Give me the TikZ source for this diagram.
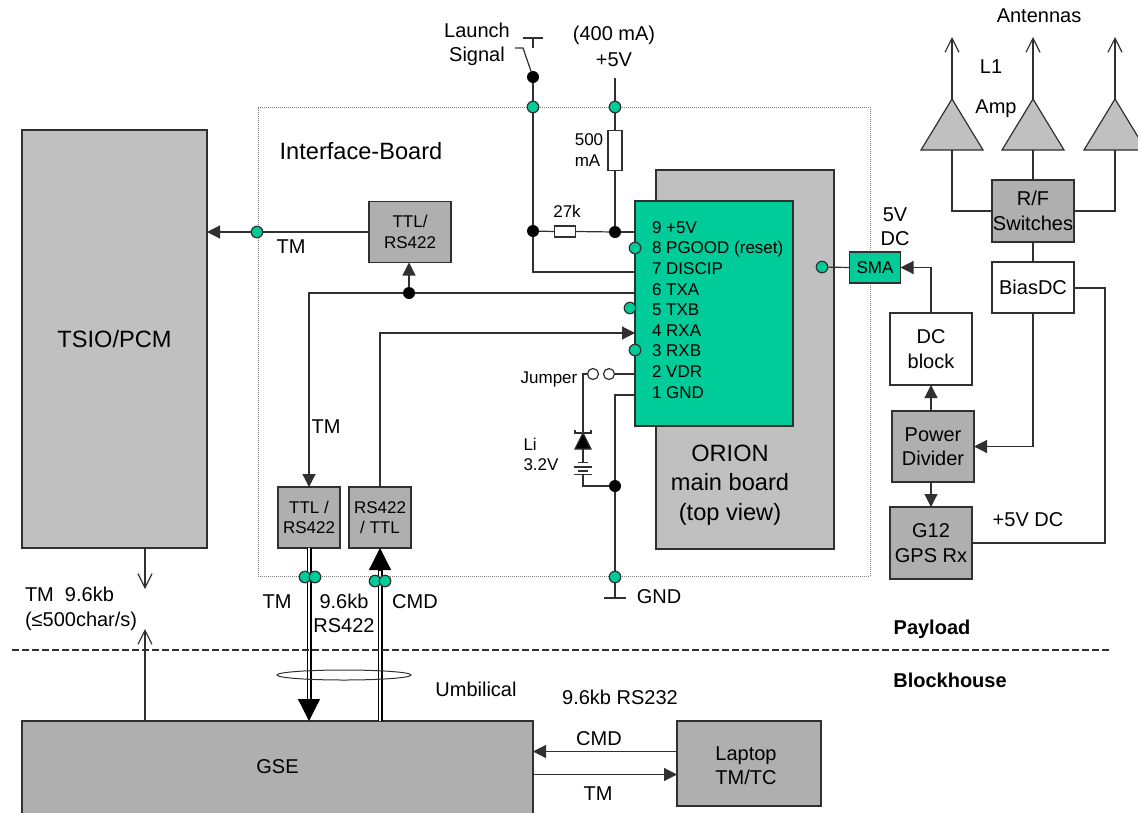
\documentclass[tikz,border=0pt]{standalone}
\usepackage{fontspec}
\setmainfont{Liberation Sans}
\usetikzlibrary{arrows.meta,shapes.geometric}
\definecolor{pcbgreen}{HTML}{00CC99}
\definecolor{boardgray}{HTML}{C0C0C0}
\definecolor{unitgray}{HTML}{AFAFAF}
\definecolor{linegray}{HTML}{303030}
\begin{document}
\begin{tikzpicture}[x=1pt,y=-1pt,line width=1.2pt,every node/.style={font=\fontsize{20}{24.5}\selectfont,align=center,inner sep=0pt,outer sep=0pt},
  box/.style={draw=linegray,line width=1.4pt,fill=unitgray},
  smalltext/.style={font=\fontsize{17}{20.6}\selectfont},
  bigtext/.style={font=\fontsize{23.6}{29.5}\selectfont},
  gdot/.style={circle,draw=linegray,fill=pcbgreen,minimum size=11.5pt},
  kdot/.style={circle,fill=black,minimum size=12pt},
  ftip/.style={-{Triangle[length=13pt,width=13pt]}},
  otip/.style={-{Straight Barb[length=14pt,width=14pt,line width=1.2pt]}},
  bigtip/.style={-{Triangle[length=22pt,width=22pt]}},
  bus/.style={double,double distance=1.6pt,line width=1.7pt,draw=black}]
\clip (0,0) rectangle (1138,812);
\node[draw=gray,dash pattern=on 1pt off 1pt,line width=1pt,minimum width=612pt,minimum height=469pt] (iface) at (564,341.5) {};
% big blocks
\node[box,fill=boardgray,bigtext,minimum width=185pt,minimum height=418pt] (tsio) at (114.5,339) {TSIO/PCM};
\node[box,minimum width=511pt,minimum height=100pt] (gse) at (277.5,771) {};
\node (gselbl) at (277.5,767) {GSE};
\node[box,minimum width=144pt,minimum height=85pt] (laptop) at (749,763.5) {};
\node (laptoplbl) at (746,765.5) {Laptop\\ TM/TC};
\node[box,fill=boardgray,minimum width=178pt,minimum height=379pt] (orion) at (745,359.5) {};
\node[bigtext] (oriontxt) at (730,485) {ORION\\ main board\\ (top view)};
\node[box,fill=pcbgreen,minimum width=158pt,minimum height=225pt] (pins) at (714,313.5) {};
\node[smalltext,align=left,anchor=north west] (pintxt) at (652,221.5) {9 +5V\\ 8 PGOOD (reset)\\ 7 DISCIP\\ 6 TXA\\ 5 TXB\\ 4 RXA\\ 3 RXB\\ 2 VDR\\ 1 GND};
% converters
\node[box,smalltext,minimum width=82pt,minimum height=61pt] (ttltop) at (410,232) {TTL/\\ RS422};
\node[box,smalltext,minimum width=62pt,minimum height=61pt] (ttlbot) at (309,517.5) {TTL /\\ RS422};
\node[box,smalltext,minimum width=62pt,minimum height=61pt] (rsbot) at (380,517.5) {RS422\\ / TTL};
% RF chain
\node[box,fill=pcbgreen,smalltext,minimum width=51pt,minimum height=31pt] (sma) at (875,267.5) {SMA};
\node[box,minimum width=82pt,minimum height=62pt] (rfsw) at (1033,211) {R/F\\ Switches};
\node[box,fill=white,minimum width=82pt,minimum height=51pt] (bias) at (1033,287.5) {BiasDC};
\node[box,fill=white,minimum width=82pt,minimum height=72pt] (dcblock) at (931,349) {DC\\ block};
\node[box,minimum width=82pt,minimum height=71pt] (divider) at (933,446.5) {Power\\ Divider};
\node[box,minimum width=82pt,minimum height=72pt] (gpsrx) at (931,543) {G12\\ GPS Rx};
% amplifiers
\foreach \nm/\x in {ampa/952,ampb/1033,ampc/1115}{
  \coordinate (\nm) at (\x,99);
  \coordinate (\nm-in) at (\x,150);
  \coordinate (\nm-out) at (\x,37);
  \draw[draw=linegray,fill=boardgray] (\nm) -- ++(-31,51) -- ++(62,0) -- cycle;
  \draw[otip,draw=linegray] (\nm) -- (\nm-out);
}
\draw[linegray] (ampa-in) |- (rfsw.west);
\draw[linegray] (ampb-in) -- (rfsw.north);
\draw[linegray] (ampc-in) |- (rfsw.east);
\draw[linegray] (rfsw.south) -- (bias.north);
\draw[linegray,ftip] (dcblock.north) |- (sma.east);
\draw[linegray,ftip] (divider.north -| dcblock.south) -- (dcblock.south);
\draw[linegray,ftip] (divider.south -| gpsrx.north) -- (gpsrx.north);
\draw[linegray,ftip] (bias.south) |- (divider.east);
\coordinate (biasout) at (1105,288);
\draw[linegray] (bias.east |- biasout) -- (biasout) |- (gpsrx.east);
% supply and launch signal
\node[kdot] (launch) at (533,77) {};
\node[gdot] (launchin) at (533,107) {};
\node[gdot] (supin) at (615,107) {};
\node[kdot] (launchj) at (533,231) {};
\node[kdot] (supj) at (615,232) {};
\coordinate (suptop) at (615,78);
\node[draw=linegray,fill=white,minimum width=14pt,minimum height=40pt] (fuse) at (615,150.5) {};
\node[draw=linegray,fill=white,minimum width=21pt,minimum height=11pt] (rpull) at (565,231.5) {};
\coordinate (swpivot) at (523,48);
\coordinate (swstub) at (515,48);
\draw[linegray] (swstub) -- (swpivot) -- (launch);
\coordinate (swtop) at (533,38);
\draw[linegray] (523,38) -- (543,38);
\draw[linegray] (swtop) -- ++(0,10);
\draw[linegray] (launch) -- (launchin);
\draw[linegray] (launchin) -- (launchj);
\draw[linegray] (suptop) -- (supin);
\draw[linegray] (supin) -- (fuse.north);
\draw[linegray] (fuse.south) -- (supj);
\draw[linegray] (launchj) -- (rpull.west);
\draw[linegray] (rpull.east) -- (supj);
\draw[linegray] (supj) -- (pins.west |- supj);
\coordinate (discip) at (635,272);
\draw[linegray] (launchj) |- (discip);
% data lines
\draw[linegray,ftip] (ttltop.west) -- (tsio.east |- ttltop.west);
\node[gdot] (tmdot) at (257,232) {};
\node[kdot] (txaj) at (409,293) {};
\coordinate (txa) at (635,293);
\coordinate (rxa) at (635,333);
\draw[linegray] (txa) -- (txaj);
\draw[linegray,ftip] (txaj) -- (txaj |- ttltop.south);
\draw[linegray,ftip] (txaj) -| (ttlbot.north);
\draw[linegray,ftip] (rsbot.north) |- (rxa);
\node[gdot] (pgood) at (635,248) {};
\node[gdot] (txb) at (630,308) {};
\node[gdot] (rxb) at (635,350) {};
\node[gdot] (smapin) at (822,267) {};
\draw[linegray] (smapin) -- (sma.west);
% backup battery
\coordinate (vdr) at (635,374);
\coordinate (gndpin) at (635,395);
\node[circle,draw=linegray,fill=white,minimum size=11pt] (jumpa) at (593,374) {};
\node[circle,draw=linegray,fill=white,minimum size=11pt] (jumpb) at (609,374) {};
\draw[linegray] (vdr) -- (jumpb);
\coordinate (diodetop) at (583,433);
\coordinate (batbot) at (583,474);
\draw[linegray] (jumpa) -- (583,374) -- (diodetop);
\draw[linegray,fill=black] (diodetop) -- (575,449) -- (591,449) -- cycle;
\draw[linegray] (575,430) -- (575,433) -- (591,433) -- (591,430);
\draw[linegray] (583,449) -- (583,462);
\draw[linegray] (578,462.5) -- (588,462.5);
\draw[linegray] (574,467) -- (592,467);
\draw[linegray] (578,471) -- (588,471);
\draw[linegray] (574,474.5) -- (592,474.5);
\node[kdot] (gndj) at (615,486) {};
\node[gdot] (gndin) at (615,577) {};
\coordinate (gndbot) at (615,598);
\draw[linegray] (batbot) |- (gndj);
\draw[linegray] (gndpin) -| (gndj);
\draw[linegray] (gndj) -- (gndin);
\draw[linegray] (gndin) -- (gndbot);
\draw[linegray] (604,598) -- (626,598);
% umbilical
\coordinate (tmtip) at (ttlbot.south |- gse.north);
\coordinate (tmneck) at (309,699);
\coordinate (cmdneck) at (380,570);
\draw[bus] (ttlbot.south) -- (tmneck);
\draw[bus] (cmdneck) -- (rsbot.south |- gse.north);
\draw[bigtip] (tmneck) -- (tmtip);
\draw[bigtip] (cmdneck) -- (rsbot.south);
\node[gdot] (tmbusa) at (305,577) {};
\node[gdot] (tmbusb) at (315,577) {};
\node[gdot] (cmdbusa) at (375,581) {};
\node[gdot] (cmdbusb) at (385,581) {};
\node[draw=linegray,ellipse,line width=1pt,minimum width=134pt,minimum height=10pt] (cable) at (344,675) {};
% other links
\coordinate (tsioout) at (145,589);
\coordinate (gseout) at (145,629);
\draw[otip,draw=linegray] (tsio.south -| tsioout) -- (tsioout);
\draw[otip,draw=linegray] (gse.north -| gseout) -- (gseout);
\coordinate (cmdin) at (677,751.5);
\coordinate (tmin) at (533,774.5);
\draw[linegray,ftip] (cmdin) -- (gse.east |- cmdin);
\draw[linegray,ftip] (tmin) -- (laptop.west |- tmin);
\coordinate (sepa) at (12,650);
\coordinate (sepb) at (1112,650);
\draw[dashed,linegray,dash pattern=on 7pt off 3pt] (sepa) -- (sepb);
% labels
\node (launchlbl) at (477,44.5) {Launch\\ Signal};
\node (sup) at (614,46.5) {(400 mA)\\[2pt] +5V};
\node[smalltext,align=left] (fuselbl) at (589,150) {500\\ mA};
\node[smalltext] (rlbl) at (567,211) {27k};
\node[bigtext] (ifacetxt) at (361,151) {Interface-Board};
\node (antlbl) at (1039,16) {Antennas};
\node (lonelbl) at (991,67) {L1};
\node (amplbl) at (996,109) {Amp};
\node (dclbl) at (895,226.5) {5V\\ DC};
\node (tmlbla) at (291,247) {TM};
\node (tmlblb) at (326,427) {TM};
\node[smalltext] (jumperlbl) at (549,379) {Jumper};
\node[smalltext,align=left] (lilbl) at (541,454.5) {Li\\ 3.2V};
\node (gndlbl) at (659,597) {GND};
\node (fivelbl) at (1028,520) {+5V DC};
\node (tmlblc) at (277,602) {TM};
\node (ratelbl) at (344,613.5) {9.6kb\\ RS422};
\node (cmdlbl) at (415,602) {CMD};
\node[align=left,anchor=west] (tsiolbl) at (25,609) {TM~~9.6kb\\ (≤500char/s)};
\node[font=\fontsize{20}{24}\selectfont\bfseries] (payload) at (932,629) {Payload};
\node[font=\fontsize{20}{24}\selectfont\bfseries] (blockhouse) at (950,680) {Blockhouse};
\node (umblbl) at (476,689) {Umbilical};
\node (serlbl) at (620,697) {9.6kb RS232};
\node (cmdlblb) at (599,739) {CMD};
\node (tmlbld) at (598,794) {TM};
\end{tikzpicture}
\end{document}
